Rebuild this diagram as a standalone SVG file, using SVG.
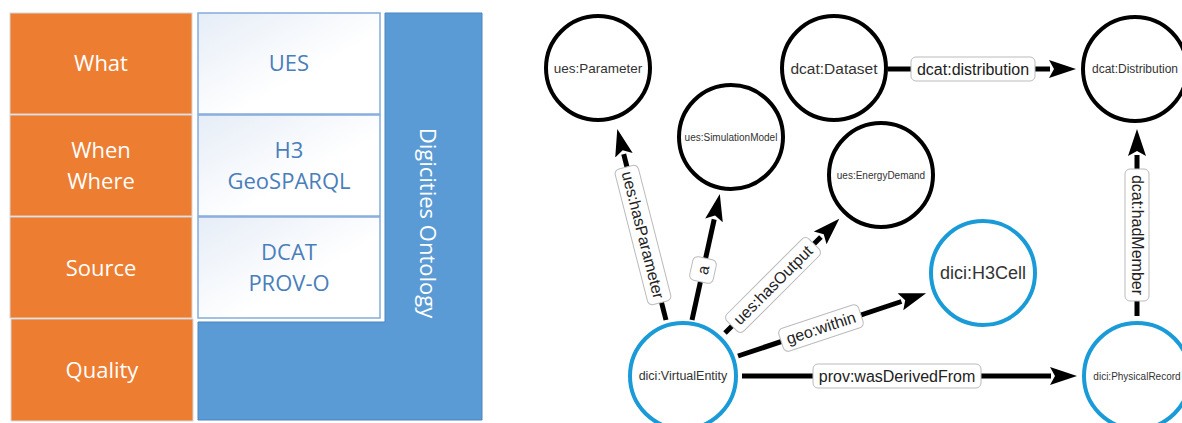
<svg xmlns="http://www.w3.org/2000/svg" width="1182" height="423" viewBox="0 0 1182 423">
<style>
.or{fill:#ed7d31;stroke:#d6d6d6;stroke-width:1}
.wb{fill:url(#wg);stroke:#85abdc;stroke-width:1.5}
.lt{font-family:"Open Sans",sans-serif;font-size:22px;fill:#ffffff;text-anchor:middle}
.bt{font-family:"Open Sans",sans-serif;font-size:22px;fill:#4a7ebb;text-anchor:middle}
.nc{fill:#ffffff;stroke:#000000;stroke-width:4}
.nb{fill:#ffffff;stroke:#1a9bd7;stroke-width:4}
.nt{font-family:"Liberation Sans",Arial,sans-serif;fill:#333333;text-anchor:middle}
.e{stroke:#000000;stroke-width:5;fill:none;marker-end:url(#ah)}
.lb{fill:#ffffff;stroke:#bbbbbb;stroke-width:1}
.et{font-family:"Liberation Sans",Arial,sans-serif;font-size:16px;fill:#222222;text-anchor:middle}
</style>
<defs>
<linearGradient id="wg" x1="0" y1="0" x2="1" y2="1">
<stop offset="0" stop-color="#e6edf7"/>
<stop offset="0.6" stop-color="#ffffff"/>
</linearGradient>
<marker id="ah" markerUnits="userSpaceOnUse" markerWidth="30" markerHeight="22" refX="1" refY="10" orient="auto">
<path d="M0,1 L27,10 L0,19 L5,10 Z" fill="#000000"/>
</marker>
</defs>
<rect width="1182" height="423" fill="#ffffff"/>
<g id="left-panel">
<g id="what"><rect class="or" x="10" y="13" width="182" height="101"/><text class="lt" x="101" y="71">What</text></g>
<g id="when-where"><rect class="or" x="10" y="115" width="182" height="101"/><text class="lt" x="101" y="158">When</text><text class="lt" x="101" y="189">Where</text></g>
<g id="source"><rect class="or" x="10" y="217" width="182" height="101"/><text class="lt" x="101" y="276">Source</text></g>
<g id="quality"><rect class="or" x="11" y="319" width="182" height="102"/><text class="lt" x="102" y="378">Quality</text></g>
<g id="digicities"><path d="M385,13 H482 V420 H198 V322 H385 Z" fill="#5b9bd5" stroke="#4a85c2" stroke-width="1"/><text class="lt" transform="translate(428,223) rotate(90)" y="8">Digicities Ontology</text></g>
<g id="ues"><rect class="wb" x="198" y="13" width="182" height="101"/><text class="bt" x="289" y="71">UES</text></g>
<g id="h3"><rect class="wb" x="198" y="115" width="182" height="101"/><text class="bt" x="289" y="158">H3</text><text class="bt" x="289" y="189">GeoSPARQL</text></g>
<g id="dcat"><rect class="wb" x="198" y="217" width="182" height="101"/><text class="bt" x="289" y="260">DCAT</text><text class="bt" x="289" y="291">PROV-O</text></g>
</g>
<g id="connectors">
<line class="e" x1="666" y1="320" x2="623.7" y2="154.2"/>
<line class="e" x1="692" y1="320" x2="714.2" y2="219.4"/>
<line class="e" x1="725" y1="333" x2="820.9" y2="237.1"/>
<line class="e" x1="738" y1="356" x2="901.4" y2="301.5"/>
<line class="e" x1="742" y1="376" x2="1051" y2="376"/>
<line class="e" x1="1137" y1="316" x2="1137" y2="155"/>
<line class="e" x1="888" y1="69" x2="1050" y2="69"/>
<g transform="translate(643,235) rotate(75.7)"><rect class="lb" x="-70" y="-12" width="140" height="24" rx="5"/><text class="et" y="5.5">ues:hasParameter</text></g>
<g transform="translate(703,270) rotate(-77.6)"><rect class="lb" x="-12" y="-12" width="24" height="24" rx="5"/><text class="et" y="5.5">a</text></g>
<g transform="translate(773,285) rotate(-45)"><rect class="lb" x="-58" y="-12" width="116" height="24" rx="5"/><text class="et" y="5.5">ues:hasOutput</text></g>
<g transform="translate(821,328) rotate(-18.4)"><rect class="lb" x="-42" y="-12" width="84" height="24" rx="5"/><text class="et" y="5.5">geo:within</text></g>
<g transform="translate(897,376)"><rect class="lb" x="-84" y="-12" width="168" height="24" rx="5"/><text class="et" y="5.5">prov:wasDerivedFrom</text></g>
<g transform="translate(1137,235) rotate(90)"><rect class="lb" x="-66" y="-12" width="132" height="24" rx="5"/><text class="et" y="5.5">dcat:hadMember</text></g>
<g transform="translate(973,69)"><rect class="lb" x="-62" y="-12" width="124" height="24" rx="5"/><text class="et" y="5.5">dcat:distribution</text></g>
</g>
<g id="ues-parameter"><circle class="nc" cx="598" cy="68" r="52"/><text class="nt" x="598" y="73" font-size="13.5">ues:Parameter</text></g>
<g id="ues-simulationmodel"><circle class="nc" cx="731" cy="137" r="52"/><text class="nt" x="731" y="141" font-size="10">ues:SimulationModel</text></g>
<g id="dcat-dataset"><circle class="nc" cx="834" cy="68" r="52"/><text class="nt" x="834" y="74" font-size="15.5">dcat:Dataset</text></g>
<g id="ues-energydemand"><circle class="nc" cx="881" cy="175" r="52"/><text class="nt" x="881" y="179" font-size="10">ues:EnergyDemand</text></g>
<g id="dcat-distribution"><circle class="nc" cx="1135" cy="69" r="52"/><text class="nt" x="1135" y="73" font-size="12">dcat:Distribution</text></g>
<g id="dici-h3cell"><circle class="nb" cx="983" cy="273" r="52"/><text class="nt" x="983" y="279" font-size="18">dici:H3Cell</text></g>
<g id="dici-virtualentity"><circle class="nb" cx="683" cy="376" r="53"/><text class="nt" x="683" y="380" font-size="12.5">dici:VirtualEntity</text></g>
<g id="dici-physicalrecord"><circle class="nb" cx="1137" cy="376" r="53"/><text class="nt" x="1137" y="380" font-size="10">dici:PhysicalRecord</text></g>
</svg>
